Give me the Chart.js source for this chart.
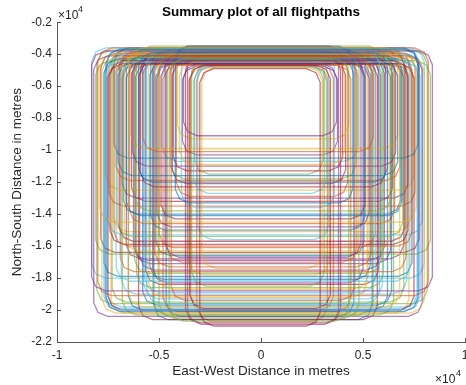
<!DOCTYPE html>
<html lang="en">
<head>
    <meta charset="UTF-8">
    <title>Summary plot of all flightpaths</title>
    <script src="https://cdn.jsdelivr.net/npm/chart.js"></script>
    <style>
        html, body {
            margin: 0;
            padding: 0;
            background: #fff;
            overflow: hidden;
        }
        #chartContainer {
            width: 522px;
            height: 385px;
        }
    </style>
</head>
<body>
    <div id="chartContainer">
        <canvas id="flightChart"></canvas>
    </div>

    <script>
        // Bounds of each flightpath loop, in metres
        const pathWest  = [-7600, -7200, -6500, -8300, -4500, -7700, -3000, -6000, -5200, -7900, -3800, -6800, -5600, -7400, -4200, -8000, -2900,
                           -6300, -5000, -7100, -3500, -6600, -5800, -7800, -4700, -6100, -3300, -7500, -5400, -6900, -4000, -8200, -6200, -5700,
                           -3700, -7000, -4400, -6700, -5100, -7300, -3100, -5900, -7700, -4800, -6400, -5300, -8100, -3900, -6000, -7200, -4600,
                           -5500, -6800, -3400, -7500, -4300, -6500, -5000, -7600, -3600, -6200, -8300, -4900, -5800, -7100, -4100, -6600, -5300,
                           -7650, -6950, -5450, -4150, -7350, -6150, -3250, -5750, -7850, -4650, -6450, -5050, -3850, -7050, -6850, -4350,
                           -5250, -7450, -3550, -6250, -8050, -4850, -5650, -6750, -3150, -7250, -5950, -4450, -7550, -6350, -5150, -3450];
        const pathEast  = [7700, 7400, 6800, 8400, 4300, 7800, 2900, 6200, 5400, 7600, 3700, 6500, 5800, 7200, 4500, 8200, 3000,
                           6600, 4800, 7300, 3400, 6900, 5500, 8000, 4900, 6000, 3200, 7500, 5100, 7100, 4100, 7900, 6400, 5600,
                           3900, 6700, 4600, 6300, 5300, 7000, 3300, 6100, 7400, 4400, 6700, 5000, 8300, 3600, 5700, 7700, 4700,
                           5200, 7200, 3100, 7900, 4000, 6200, 5600, 7500, 3800, 5900, 8000, 5100, 6400, 6800, 4300, 7000, 5500,
                           7650, 7050, 5350, 4250, 7250, 6350, 3050, 5950, 7750, 4550, 6550, 5250, 3750, 6950, 7150, 4150,
                           5450, 7550, 3350, 6050, 8150, 4750, 5750, 6850, 3250, 7350, 5850, 4650, 7750, 6450, 5050, 3550];
        const pathNorth = [-3700, -4100, -3600, -3800, -4300, -4500, -4900, -3900, -4200, -4000, -4600, -4200, -3700, -4400, -3500, -3600, -4800,
                           -4300, -4000, -3800, -4700, -4100, -4400, -4200, -3900, -3500, -4800, -4600, -3800, -4000, -4500, -4100, -3700, -4300,
                           -4100, -4500, -3600, -3900, -4600, -3700, -4400, -4000, -4300, -4700, -3800, -4100, -4400, -3900, -4500, -3600, -4200,
                           -3700, -4600, -4200, -4000, -3500, -4400, -4100, -4700, -3800, -4300, -3600, -4500, -3900, -4200, -4000, -4600, -3800,
                           -4250, -3850, -4450, -4050, -3750, -4550, -4650, -4150, -3950, -4350, -4050, -3650, -4750, -4250, -3850, -4450,
                           -4150, -3950, -4850, -4350, -3750, -4550, -4050, -4250, -4750, -3850, -4450, -4150, -3650, -4350, -4550, -4650];
        const pathSouth = [-20100, -16000, -19800, -18800, -20700, -20000, -21000, -12000, -17300, -14500, -9100, -20300, -19600, -15900, -13300, -19100, -17400,
                           -11000, -20500, -18200, -19900, -14100, -10100, -20200, -16700, -18600, -12700, -20000, -15000, -17600, -10900, -20400, -13800, -18900,
                           -20800, -11600, -19400, -16300, -14800, -19500, -15600, -12300, -17900, -20100, -9900, -18300, -16500, -13600, -20600, -10500, -17000,
                           -19200, -13000, -18500, -15300, -11300, -20000, -16100, -12500, -20900, -17700, -18000, -14300, -19700, -11900, -9300, -16800, -20300,
                           -19900, -15700, -18100, -12900, -20200, -17100, -11500, -19300, -16400, -20400, -14600, -18700, -10300, -15400, -19000, -12100,
                           -20600, -13500, -17800, -16900, -19600, -10700, -18400, -14000, -20700, -15100, -17500, -11800, -19800, -13200, -16600, -20000];

        // Axis ticks (metres) and their labels (x 10^4)
        const xTicks = [-10000, -5000, 0, 5000, 10000];
        const xTickLabels = ['-1', '-0.5', '0', '0.5', '1'];
        const yTicks = [-2000, -4000, -6000, -8000, -10000, -12000, -14000, -16000, -18000, -20000, -22000];
        const yTickLabels = ['-0.2', '-0.4', '-0.6', '-0.8', '-1', '-1.2', '-1.4', '-1.6', '-1.8', '-2', '-2.2'];

        // MATLAB default colour order
        const lineColors = ['#0072BD', '#D95319', '#EDB120', '#7E2F8E', '#77AC30', '#4DBEEE', '#A2142F'];

        const cornerX = 680;   // corner rounding, metres
        const cornerY = 860;
        const k = 0.3;         // inset of the corner midpoint

        // Turn the bounds of one loop into an outline with rounded-off corners
        function outline(i) {
            const w = pathWest[i], e = pathEast[i], n = pathNorth[i], s = pathSouth[i];
            return [
                {x: w + cornerX, y: n},
                {x: e - cornerX, y: n},
                {x: e - k * cornerX, y: n - k * cornerY},
                {x: e, y: n - cornerY},
                {x: e, y: s + cornerY},
                {x: e - k * cornerX, y: s + k * cornerY},
                {x: e - cornerX, y: s},
                {x: w + cornerX, y: s},
                {x: w + k * cornerX, y: s + k * cornerY},
                {x: w, y: s + cornerY},
                {x: w, y: n - cornerY},
                {x: w + k * cornerX, y: n - k * cornerY},
                {x: w + cornerX, y: n}
            ];
        }

        const datasets = pathWest.map((_, i) => ({
            data: outline(i),
            borderColor: lineColors[i % lineColors.length] + '99',
            borderWidth: 1.3,
            pointRadius: 0,
            fill: false,
            tension: 0
        }));

        const textColor = '#262626';
        const axisColor = '#555555';
        const fontFamily = '"Liberation Sans", Arial, sans-serif';

        // Inward tick marks and the x10^4 exponent labels, as MATLAB draws them
        const matlabAxes = {
            id: 'matlabAxes',
            afterDraw(chart) {
                const c = chart.ctx;
                const xs = chart.scales.x, ys = chart.scales.y;
                const area = chart.chartArea;
                c.save();
                c.strokeStyle = axisColor;
                c.lineWidth = 1;
                c.beginPath();
                xTicks.forEach(v => {
                    const px = Math.round(xs.getPixelForValue(v)) + 0.5;
                    c.moveTo(px, area.bottom);
                    c.lineTo(px, area.bottom - 4);
                });
                yTicks.forEach(v => {
                    const py = Math.round(ys.getPixelForValue(v)) + 0.5;
                    c.moveTo(area.left, py);
                    c.lineTo(area.left + 4, py);
                });
                c.stroke();

                c.fillStyle = textColor;
                c.textBaseline = 'alphabetic';
                c.textAlign = 'left';
                c.font = '12px ' + fontFamily;
                c.fillText('\u00d710', area.left + 1, 19);
                c.fillText('\u00d710', area.right - 30, 383);
                c.font = '9px ' + fontFamily;
                c.fillText('4', area.left + 21, 12);
                c.fillText('4', area.right - 9, 376);
                c.restore();
            }
        };

        const ctx = document.getElementById('flightChart').getContext('2d');
        const flightChart = new Chart(ctx, {
            type: 'line',
            data: { datasets: datasets },
            options: {
                responsive: true,
                maintainAspectRatio: false,
                animation: false,
                events: [],
                scales: {
                    x: {
                        type: 'linear',
                        min: -10000,
                        max: 10000,
                        afterBuildTicks: scale => { scale.ticks = xTicks.map(v => ({value: v})); },
                        afterFit: scale => { scale.height = 43; },
                        grid: { display: false, drawTicks: false },
                        border: { display: true, color: axisColor, width: 1 },
                        ticks: {
                            color: textColor,
                            font: { family: fontFamily, size: 12 },
                            padding: 6,
                            maxRotation: 0,
                            callback: (v) => xTickLabels[xTicks.indexOf(v)]
                        },
                        title: {
                            display: true,
                            text: 'East-West Distance in metres',
                            color: textColor,
                            font: { family: fontFamily, size: 13.5 },
                            padding: { top: 0, bottom: 6 }
                        }
                    },
                    y: {
                        type: 'linear',
                        min: -22000,
                        max: -2000,
                        afterBuildTicks: scale => { scale.ticks = yTicks.map(v => ({value: v})); },
                        afterFit: scale => { scale.width = 57; },
                        grid: { display: false, drawTicks: false },
                        border: { display: true, color: axisColor, width: 1 },
                        ticks: {
                            color: textColor,
                            font: { family: fontFamily, size: 12 },
                            padding: 5,
                            callback: (v) => yTickLabels[yTicks.indexOf(v)]
                        },
                        title: {
                            display: true,
                            text: 'North-South Distance in metres',
                            color: textColor,
                            font: { family: fontFamily, size: 13.5 },
                            padding: { top: 9, bottom: 0 }
                        }
                    },
                    // empty right-hand box, so the plot stays centred under the title
                    yRight: {
                        type: 'linear',
                        position: 'right',
                        min: -22000,
                        max: -2000,
                        afterFit: scale => { scale.width = 57; },
                        grid: { display: false, drawTicks: false },
                        border: { display: false },
                        ticks: { display: false }
                    }
                },
                plugins: {
                    legend: { display: false },
                    tooltip: { enabled: false },
                    title: {
                        display: true,
                        text: 'Summary plot of all flightpaths',
                        color: '#000000',
                        font: { family: fontFamily, size: 13.5, weight: 'bold' },
                        padding: { top: 4, bottom: 2 }
                    }
                }
            },
            plugins: [matlabAxes]
        });
    </script>
</body>
</html>
